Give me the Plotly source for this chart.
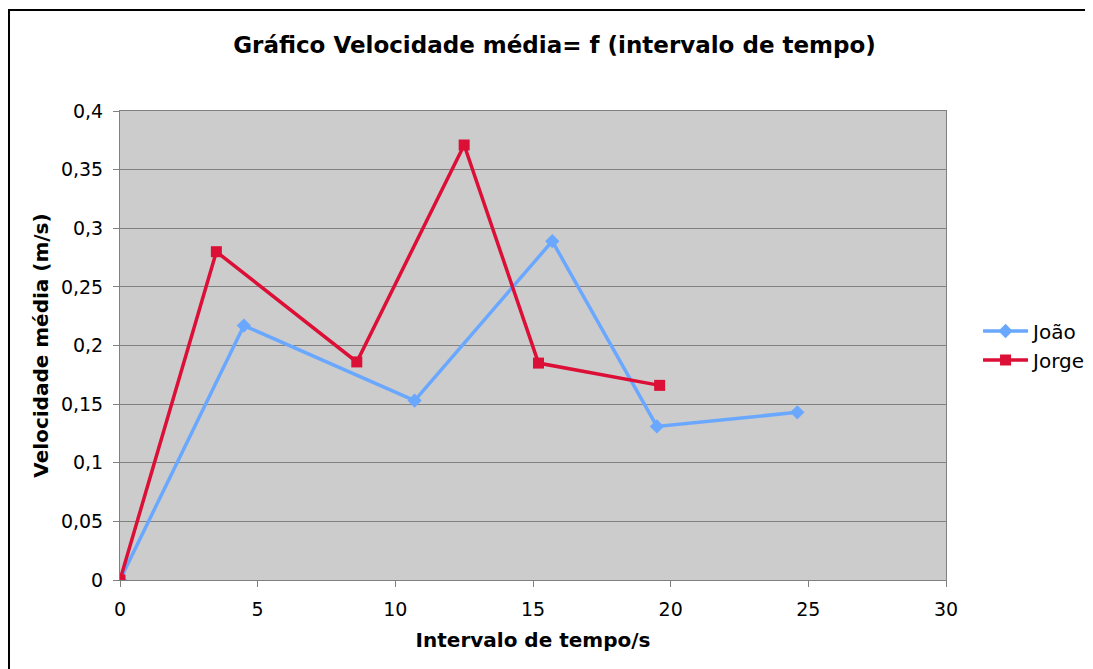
import plotly.graph_objects as go

# dados
joao_t = [0, 4.5, 10.7, 15.7, 19.5, 24.6]
joao_v = [0, 0.217, 0.153, 0.289, 0.131, 0.143]
jorge_t = [0, 3.5, 8.6, 12.5, 15.2, 19.6]
jorge_v = [0, 0.280, 0.186, 0.371, 0.185, 0.166]

fonte = "DejaVu Sans, Verdana, sans-serif"

fig = go.Figure()
fig.add_trace(go.Scatter(x=joao_t, y=joao_v, name="João", mode="lines+markers",
                         line=dict(color="#6AA8FF", width=3.5),
                         marker=dict(symbol="diamond", size=11, color="#6AA8FF")))
fig.add_trace(go.Scatter(x=jorge_t, y=jorge_v, name="Jorge", mode="lines+markers",
                         line=dict(color="#DC0F37", width=3.5),
                         marker=dict(symbol="square", size=11, color="#DC0F37")))

# a página tem 8px de margem no body, por isso tudo desloca 8px
fig.update_layout(
    width=1093, height=669,
    margin=dict(l=112, r=155, t=103, b=97, autoexpand=False),
    paper_bgcolor="white", plot_bgcolor="#CCCCCC",
    separators=",.",
    font=dict(family=fonte, size=19, color="black"),
    title=dict(text="<b>Gráfico Velocidade média= f (intervalo de tempo)</b>",
               x=0.5, xanchor="center", y=0.945, yanchor="middle",
               font=dict(size=23)),
    legend=dict(xref="container", x=0.8875, y=0.5, yref="paper", xanchor="left", yanchor="middle",
                itemwidth=45, bgcolor="rgba(0,0,0,0)", font=dict(size=20), tracegroupgap=4),
)
fig.update_xaxes(range=[0, 30], dtick=5, showgrid=False, zeroline=False,
                 showline=True, linecolor="#808080", linewidth=1, mirror=True,
                 ticks="outside", ticklen=6, tickcolor="#808080", ticklabelstandoff=6,
                 title=dict(text="<b>Intervalo de tempo/s</b>", font=dict(size=20), standoff=14))
fig.update_yaxes(range=[0, 0.4], dtick=0.05, showgrid=True, gridcolor="#808080", gridwidth=1,
                 zeroline=False, showline=True, linecolor="#808080", linewidth=1, mirror=True,
                 ticks="outside", ticklen=6, tickcolor="#808080", ticklabelstandoff=6,
                 title=dict(text="<b>Velocidade média (m/s)</b>", font=dict(size=20), standoff=6))

# moldura preta do gráfico
fig.add_shape(type="rect", xref="paper", yref="paper",
              x0=-0.1344, x1=1.3, y0=-0.3, y1=1.2154,
              line=dict(color="black", width=2), fillcolor="rgba(0,0,0,0)", layer="below")

fig.write_html("out.html")
